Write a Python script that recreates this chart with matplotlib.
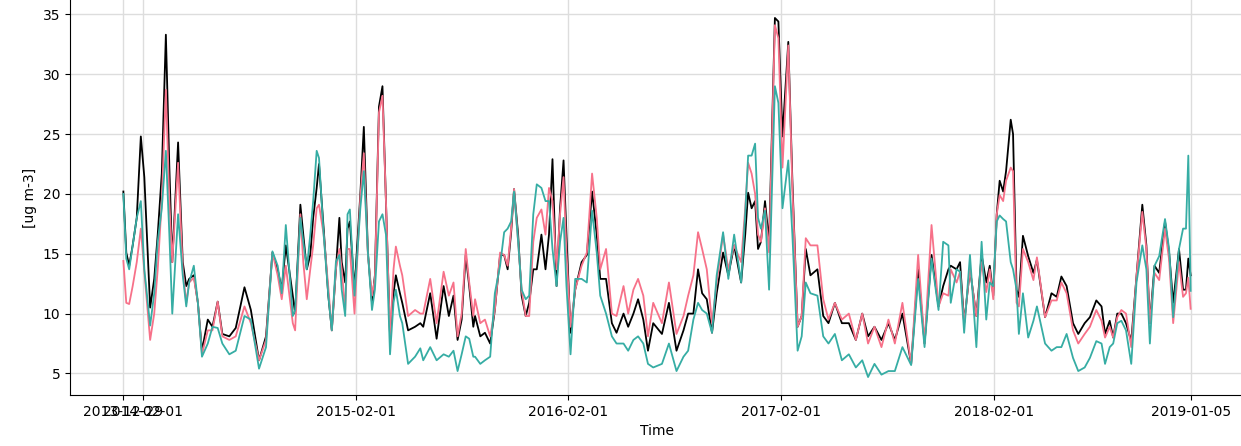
import matplotlib
matplotlib.use('Agg')
import matplotlib.pyplot as plt
import pandas as pd

# 起始日期与各记录相对天数
start_date = '2013-12-29'
day_offset = [
    0, 5, 10, 16, 23, 30, 36, 46, 53, 59, 66, 73, 79, 84, 94, 102, 108, 113, 121, 128,
    135, 145, 153, 162, 170, 182, 193, 208, 219, 233, 245, 256, 265, 272, 279, 291, 295, 304, 309, 315,
    321, 326, 332, 336, 344, 352, 358, 365, 371, 375, 381, 385, 389, 397, 407, 413, 420, 427, 432, 439,
    445, 451, 458, 464, 468, 475, 479, 489, 501, 510, 515, 527, 538, 550, 559, 567, 574, 581, 588, 594,
    601, 604, 613, 621, 630, 638, 647, 654, 660, 666, 671, 678, 684, 691, 697, 704, 710, 718, 725, 731,
    737, 744, 750, 756, 761, 768, 776, 787, 796, 805, 813, 819, 829, 839, 847, 859, 867, 876, 884, 893,
    901, 910, 925, 937, 950, 962, 970, 979, 987, 994, 1002, 1011, 1019, 1030, 1039, 1049, 1061, 1068, 1073, 1079,
    1085, 1090, 1095, 1102, 1109, 1119, 1125, 1132, 1142, 1149, 1158, 1165, 1172, 1180, 1192, 1202, 1211, 1222, 1234, 1246,
    1258, 1269, 1279, 1290, 1302, 1314, 1325, 1338, 1353, 1365, 1376, 1388, 1400, 1408, 1417, 1421, 1431, 1437, 1444, 1454,
    1465, 1474, 1482, 1488, 1494, 1500, 1505, 1511, 1516, 1524, 1528, 1534, 1538, 1545, 1554, 1563, 1569, 1583, 1594, 1603,
    1611, 1620, 1631, 1640, 1651, 1660, 1671, 1680, 1686, 1694, 1700, 1707, 1714, 1722, 1731, 1740, 1750, 1757, 1763, 1771,
    1779, 1789, 1796, 1803, 1813, 1820, 1825, 1829, 1833,
]

# 观测值
obs = [
    20.2, 15.1, 14.0, 15.7, 18.0, 24.8, 21.4, 10.5, 12.9, 16.6, 21.7, 33.3, 22.2, 14.3, 24.3, 14.3, 12.3, 12.9, 13.2, 10.9,
    6.9, 9.5, 8.9, 11.0, 8.3, 8.1, 8.8, 12.2, 10.3, 6.1, 8.1, 15.1, 13.7, 12.0, 15.7, 11.5, 10.0, 19.1, 16.6, 13.7,
    14.9, 18.0, 20.5, 22.5, 17.1, 11.5, 8.6, 13.7, 18.0, 14.3, 12.6, 17.1, 17.7, 12.0, 20.0, 25.6, 15.1, 10.9, 13.2, 27.3,
    29.0, 19.4, 8.1, 11.7, 13.2, 11.7, 10.9, 8.6, 8.9, 9.2, 8.9, 11.7, 7.9, 12.3, 9.8, 11.5, 7.8, 9.5, 14.9, 12.3,
    8.9, 9.8, 8.1, 8.4, 7.5, 10.3, 14.9, 14.9, 13.7, 16.8, 20.4, 16.6, 11.5, 9.8, 10.9, 13.7, 13.7, 16.6, 13.7, 16.6,
    22.9, 12.3, 18.8, 22.8, 16.6, 8.4, 12.0, 14.3, 14.9, 20.2, 16.6, 12.9, 12.9, 9.2, 8.4, 10.0, 8.9, 10.0, 11.2, 9.5,
    6.9, 9.2, 8.3, 10.9, 6.9, 8.6, 10.0, 10.0, 13.7, 11.7, 11.2, 8.4, 11.7, 15.1, 13.2, 15.7, 12.6, 16.6, 20.1, 18.8,
    19.4, 15.4, 16.0, 19.4, 16.0, 34.7, 34.4, 24.8, 32.7, 21.1, 8.9, 9.8, 15.4, 13.2, 13.7, 9.8, 9.2, 10.9, 9.2, 9.2,
    7.8, 10.0, 8.1, 8.9, 7.8, 9.2, 7.8, 10.0, 5.8, 13.7, 7.5, 14.9, 10.6, 12.3, 13.7, 14.0, 13.7, 14.3, 9.2, 13.7,
    9.8, 14.9, 12.6, 14.0, 11.5, 18.3, 21.1, 20.2, 21.9, 26.2, 25.0, 12.0, 11.4, 16.5, 14.8, 13.4, 14.5, 9.7, 11.7, 11.4,
    13.1, 12.3, 9.2, 8.3, 9.2, 9.7, 11.1, 10.6, 8.3, 9.4, 8.0, 10.0, 10.0, 9.2, 7.7, 13.1, 19.1, 15.7, 9.2, 14.0,
    13.4, 17.7, 15.1, 10.9, 15.4, 12.0, 12.0, 14.6, 13.2,
]

# 模拟结果 A
sim_a = [
    14.4, 10.9, 10.8, 12.3, 14.3, 17.1, 13.5, 7.8, 10.0, 13.7, 19.4, 28.7, 19.4, 14.3, 22.6, 13.7, 10.9, 12.6, 13.0, 10.9,
    6.6, 8.6, 8.6, 11.0, 8.1, 7.8, 8.1, 10.6, 9.2, 6.1, 7.8, 15.1, 13.2, 11.2, 14.0, 9.2, 8.6, 18.3, 14.3, 11.2,
    13.7, 15.7, 18.8, 19.1, 16.6, 12.2, 8.6, 13.7, 15.4, 13.7, 10.3, 15.4, 15.4, 10.0, 19.7, 23.4, 14.9, 11.5, 12.9, 26.8,
    28.2, 19.4, 8.1, 13.7, 15.6, 14.0, 13.2, 9.8, 10.3, 10.0, 10.0, 12.9, 9.2, 13.5, 11.5, 12.6, 8.1, 10.0, 15.4, 12.6,
    9.8, 11.2, 9.2, 9.5, 8.1, 10.3, 15.1, 14.9, 14.0, 17.1, 20.4, 16.0, 12.0, 9.8, 9.8, 16.0, 18.0, 18.7, 16.6, 20.5,
    19.4, 13.7, 18.3, 21.4, 15.1, 8.9, 12.0, 14.0, 15.1, 21.7, 18.0, 13.7, 15.4, 10.0, 9.8, 12.3, 10.0, 12.0, 12.9, 11.5,
    8.1, 10.9, 9.2, 12.6, 8.3, 9.8, 11.5, 13.2, 16.8, 15.4, 13.7, 9.2, 12.6, 16.6, 13.7, 15.7, 14.3, 18.8, 22.6, 21.7,
    20.0, 16.6, 16.0, 18.8, 15.1, 34.1, 33.0, 22.2, 32.4, 20.5, 8.9, 9.8, 16.3, 15.7, 15.7, 11.2, 9.5, 10.9, 9.5, 10.0,
    7.8, 10.0, 7.5, 8.9, 7.2, 9.5, 7.5, 10.9, 5.8, 14.9, 7.5, 17.4, 10.6, 11.7, 11.5, 13.7, 12.6, 13.5, 9.2, 13.7,
    9.8, 14.3, 11.8, 13.7, 11.2, 18.3, 19.9, 19.4, 21.1, 22.2, 21.9, 10.9, 10.6, 15.4, 14.3, 12.8, 14.7, 9.7, 11.1, 11.1,
    12.6, 11.7, 8.6, 7.5, 8.3, 8.9, 10.3, 9.4, 8.0, 8.9, 8.0, 9.7, 10.3, 10.0, 7.2, 13.1, 18.5, 15.4, 9.2, 13.4,
    12.8, 17.1, 14.5, 9.2, 14.3, 11.4, 11.7, 13.0, 10.4,
]

# 模拟结果 B
sim_b = [
    20.0, 14.6, 13.7, 15.7, 18.0, 19.4, 13.7, 9.0, 11.7, 16.0, 18.8, 23.6, 16.6, 10.0, 18.3, 13.2, 10.6, 12.6, 14.0, 10.9,
    6.4, 7.5, 8.9, 8.8, 7.5, 6.6, 6.9, 9.8, 9.5, 5.4, 7.2, 15.2, 14.0, 11.7, 17.4, 9.8, 10.3, 18.0, 16.0, 13.7,
    16.6, 19.4, 23.6, 23.0, 16.6, 11.5, 8.6, 14.3, 14.9, 12.0, 9.8, 18.3, 18.7, 11.5, 18.8, 21.9, 15.1, 10.3, 12.0, 17.7,
    18.3, 16.6, 6.6, 10.9, 12.0, 9.8, 9.2, 5.8, 6.4, 7.1, 6.1, 7.2, 6.1, 6.6, 6.4, 6.9, 5.2, 6.6, 8.1, 7.9,
    6.4, 6.4, 5.8, 6.1, 6.4, 11.7, 14.0, 16.8, 17.1, 17.7, 20.2, 16.0, 12.0, 11.2, 11.5, 18.3, 20.8, 20.5, 19.4, 19.4,
    15.4, 12.3, 16.0, 18.0, 12.3, 6.6, 12.9, 12.9, 12.6, 18.6, 15.1, 11.5, 10.0, 8.1, 7.5, 7.5, 6.9, 7.8, 8.1, 7.5,
    5.8, 5.5, 5.8, 7.5, 5.2, 6.4, 6.9, 9.5, 10.9, 10.3, 10.0, 8.4, 13.2, 16.8, 12.9, 16.6, 12.6, 18.3, 23.2, 23.2,
    24.2, 18.0, 17.1, 18.6, 12.0, 29.0, 27.6, 18.8, 22.8, 16.6, 6.9, 8.1, 12.6, 11.7, 11.5, 8.1, 7.5, 8.3, 6.1, 6.6,
    5.5, 6.1, 4.7, 5.8, 4.9, 5.2, 5.2, 7.2, 5.7, 12.9, 7.2, 14.6, 10.3, 16.0, 15.7, 10.9, 13.7, 13.5, 8.4, 14.9,
    7.2, 16.0, 9.5, 12.6, 12.3, 17.7, 18.2, 17.9, 17.7, 14.3, 13.7, 12.0, 8.3, 11.7, 8.0, 9.4, 10.6, 7.5, 6.9, 7.2,
    7.2, 8.3, 6.3, 5.2, 5.5, 6.3, 7.7, 7.5, 5.8, 7.2, 7.5, 9.2, 9.4, 8.6, 5.8, 12.6, 15.7, 13.7, 7.5, 14.0,
    14.8, 17.9, 15.4, 9.7, 15.4, 17.1, 17.1, 23.2, 11.9,
]

tick_dates = ['2013-12-29', '2014-02-01', '2015-02-01', '2016-02-01',
              '2017-02-01', '2018-02-01', '2019-01-05']

time = pd.Timestamp(start_date) + pd.to_timedelta(day_offset, unit='D')

fig = plt.figure(figsize=(12.41, 4.46), dpi=100)
ax = fig.add_axes([70 / 1241, 51 / 446, 1174 / 1241, 395 / 446])

ax.plot(time, obs, color='black', lw=1.3)
ax.plot(time, sim_a, color='#f77189', lw=1.3)
ax.plot(time, sim_b, color='#36ada4', lw=1.3)

ax.set_xticks(pd.to_datetime(tick_dates))
ax.set_xticklabels(tick_dates)
ax.set_yticks([5, 10, 15, 20, 25, 30, 35])

ax.grid(True, color='#dddddd', lw=1)
ax.set_axisbelow(True)
ax.spines['top'].set_visible(False)
ax.spines['right'].set_visible(False)

ax.set_xlabel('Time')
ax.set_ylabel('[ug m-3]')

plt.savefig('out.png', dpi=100)
